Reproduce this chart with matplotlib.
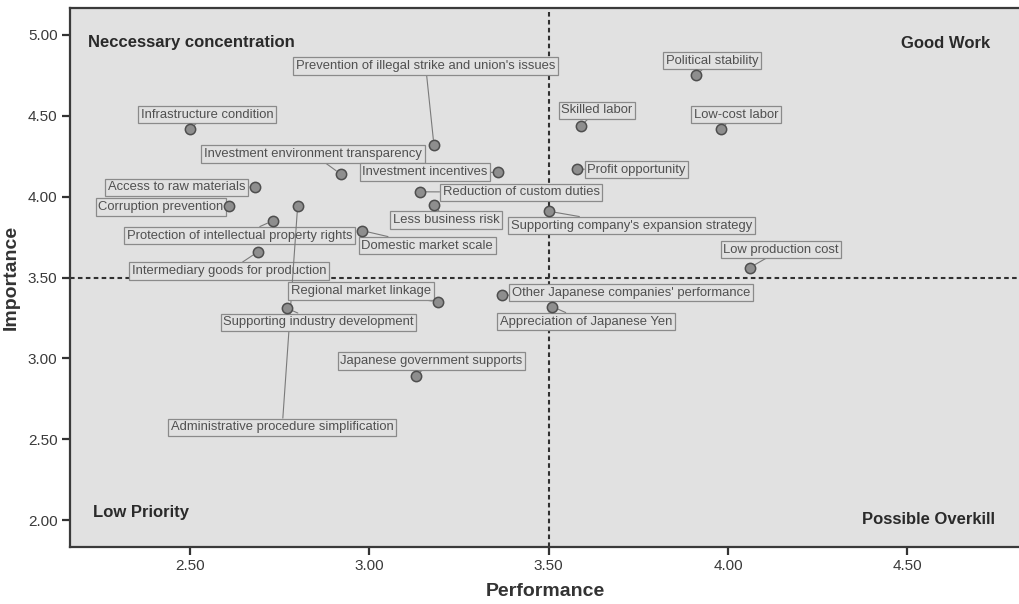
import matplotlib
matplotlib.use("Agg")
import matplotlib.pyplot as plt

plt.rcParams['font.family'] = ['Liberation Sans', 'DejaVu Sans']

# ---- data ----
factors = [
    "Infrastructure condition",
    "Investment environment transparency",
    "Access to raw materials",
    "Corruption prevention",
    "Protection of intellectual property rights",
    "Intermediary goods for production",
    "Administrative procedure simplification",
    "Prevention of illegal strike and union's issues",
    "Investment incentives",
    "Reduction of custom duties",
    "Less business risk",
    "Supporting company's expansion strategy",
    "Domestic market scale",
    "Skilled labor",
    "Profit opportunity",
    "Political stability",
    "Low-cost labor",
    "Low production cost",
    "Regional market linkage",
    "Other Japanese companies' performance",
    "Appreciation of Japanese Yen",
    "Japanese government supports",
    "Supporting industry development",
]
performance = [2.50, 2.92, 2.68, 2.61, 2.73, 2.69, 2.80, 3.18, 3.36, 3.14, 3.18, 3.50,
               2.98, 3.59, 3.58, 3.91, 3.98, 4.06, 3.19, 3.37, 3.51, 3.13, 2.77]
importance = [4.42, 4.14, 4.06, 3.94, 3.85, 3.66, 3.94, 4.32, 4.15, 4.03, 3.95, 3.91,
              3.79, 4.44, 4.17, 4.75, 4.42, 3.56, 3.35, 3.39, 3.32, 2.89, 3.31]

# label box centres (data coordinates)
label_x = [2.547, 2.843, 2.462, 2.419, 2.638, 2.609, 2.757, 3.157, 3.155, 3.423, 3.214, 3.731,
           3.161, 3.635, 3.745, 3.956, 4.023, 4.148, 2.977, 3.730, 3.604, 3.173, 2.858]
label_y = [4.508, 4.264, 4.059, 3.936, 3.759, 3.540, 2.574, 4.808, 4.152, 4.028, 3.855, 3.821,
           3.697, 4.533, 4.168, 4.842, 4.508, 3.673, 3.416, 3.407, 3.227, 2.983, 3.224]

x_ticks = [2.50, 3.00, 3.50, 4.00, 4.50]
y_ticks = [2.00, 2.50, 3.00, 3.50, 4.00, 4.50, 5.00]
ref_x = 3.50
ref_y = 3.50

quadrants = ["Neccessary concentration", "Good Work", "Low Priority", "Possible Overkill"]

# ---- figure ----
fig = plt.figure(figsize=(10.2, 6.04), dpi=100)
ax = fig.add_axes([70/1020, 1 - 547/604, 950/1020, (547 - 8)/604])
ax.set_facecolor('#e1e1e1')
ax.set_xlim(2.1654, 4.814)
ax.set_ylim(1.833, 5.167)

ax.axhline(ref_y, color='#303030', lw=1.5, ls=(0, (2.2, 1.6)), zorder=1)
ax.axvline(ref_x, color='#303030', lw=1.5, ls=(0, (2.2, 1.6)), zorder=1)

for name, px, py, lx, ly in zip(factors, performance, importance, label_x, label_y):
    ax.annotate(name, xy=(px, py), xytext=(lx, ly), ha='center', va='center',
                fontsize=9.4, color='#505050', zorder=3,
                bbox=dict(boxstyle='square,pad=0.2', fc='#e1e1e1', ec='#8a8a8a', lw=0.9),
                arrowprops=dict(arrowstyle='-', color='#7a7a7a', lw=0.8,
                                shrinkA=0, shrinkB=4),
                annotation_clip=False)

ax.scatter(performance, importance, s=55, c='#8e8e8e', edgecolors='#4e4e4e',
           linewidths=1.1, zorder=4)

qkw = dict(fontsize=12, fontweight='bold', color='#2a2a2a', transform=ax.transAxes)
ax.text(18/950, 1 - (42 - 8)/539, quadrants[0], ha='left', va='center', **qkw)
ax.text((990 - 70)/950, 1 - (43 - 8)/539, quadrants[1], ha='right', va='center', **qkw)
ax.text(23/950, 1 - (513 - 8)/539, quadrants[2], ha='left', va='center', **qkw)
ax.text((995 - 70)/950, 1 - (520 - 8)/539, quadrants[3], ha='right', va='center', **qkw)

ax.set_xticks(x_ticks)
ax.set_xticklabels([f"{v:.2f}" for v in x_ticks])
ax.set_yticks(y_ticks)
ax.set_yticklabels([f"{v:.2f}" for v in y_ticks])
ax.tick_params(axis='both', direction='out', length=6, width=1.6, colors='#333333',
               labelsize=11, labelcolor='#3a3a3a', pad=3)

for s in ['left', 'bottom', 'top']:
    ax.spines[s].set_color('#3a3a3a')
    ax.spines[s].set_linewidth(1.6)
ax.spines['right'].set_visible(False)

ax.set_xlabel("Performance", fontsize=14, fontweight='bold', color='#333333', labelpad=7)
ax.set_ylabel("Importance", fontsize=14, fontweight='bold', color='#333333', labelpad=6)

fig.savefig("out.png", dpi=100)
